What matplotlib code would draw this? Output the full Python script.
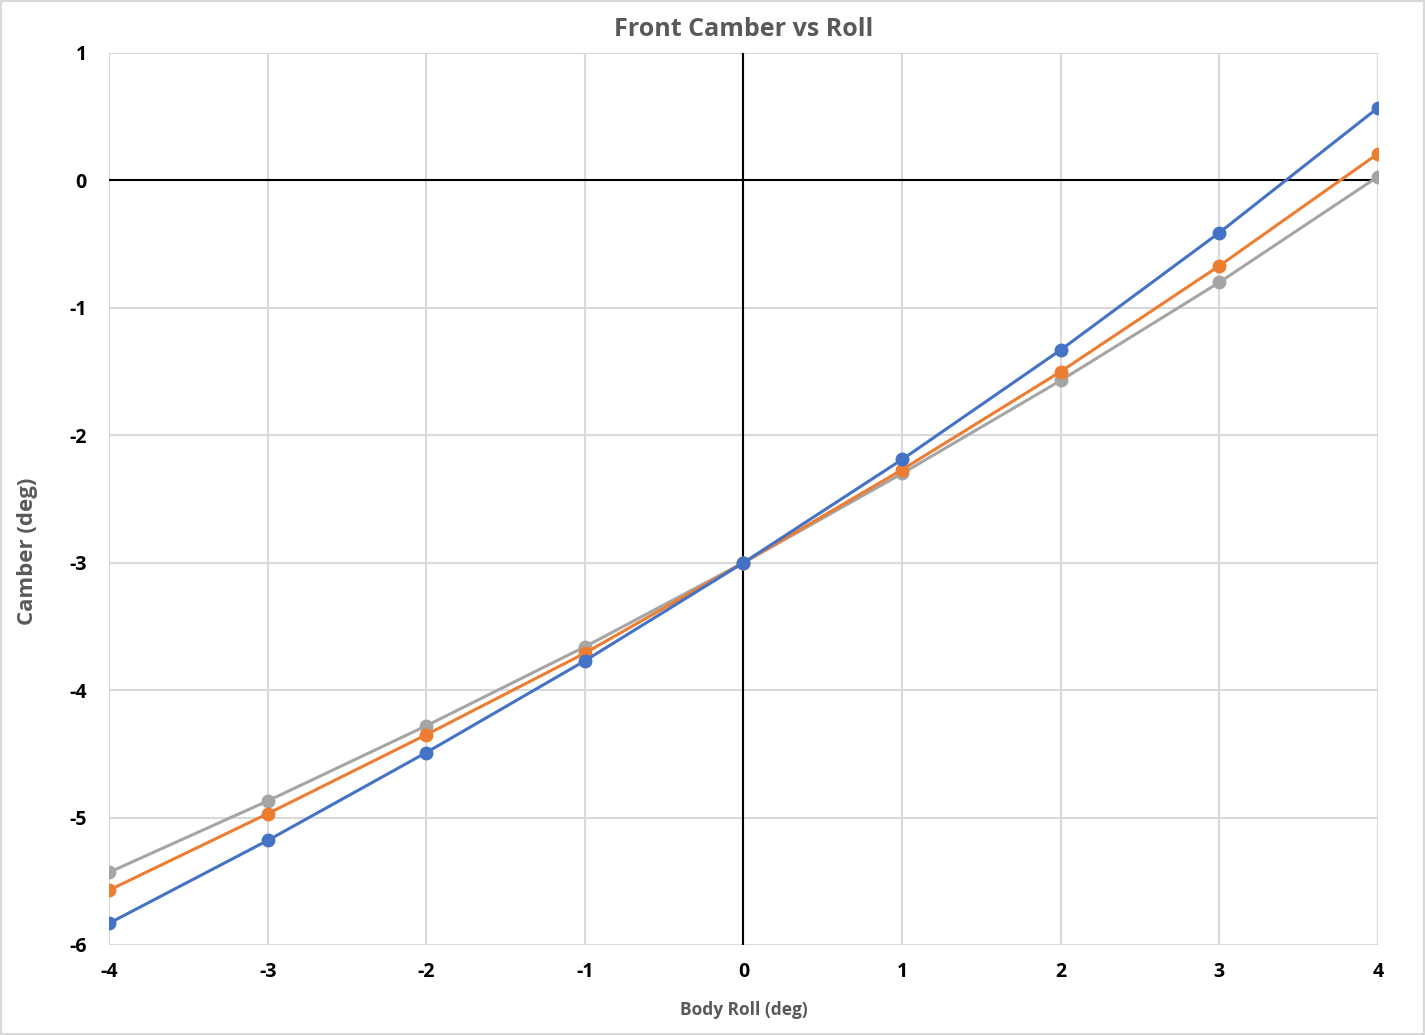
import matplotlib.pyplot as plt
from matplotlib.patches import Rectangle

roll = [-4, -3, -2, -1, 0, 1, 2, 3, 4]
camber_blue = [-5.83, -5.18, -4.49, -3.77, -3.00, -2.19, -1.33, -0.41, 0.57]
camber_orange = [-5.57, -4.97, -4.35, -3.71, -3.00, -2.27, -1.50, -0.67, 0.21]
camber_gray = [-5.43, -4.87, -4.28, -3.66, -3.00, -2.30, -1.57, -0.80, 0.03]

x_ticks = [-4, -3, -2, -1, 0, 1, 2, 3, 4]
y_ticks = [1, 0, -1, -2, -3, -4, -5, -6]

plt.rcParams['font.family'] = ['Open Sans', 'DejaVu Sans']
plt.rcParams['axes.unicode_minus'] = False

fig = plt.figure(figsize=(14.25, 10.35), dpi=100)
fig.patches.append(Rectangle((0.001, 0.001), 0.998, 0.998, transform=fig.transFigure,
                             fill=False, edgecolor='#d9d9d9', linewidth=1.5))
ax = fig.add_axes([0.0765, 0.087, 0.8905, 0.8618])

ax.set_xlim(-4, 4)
ax.set_ylim(-6, 1)
ax.set_xticks(x_ticks)
ax.set_yticks(y_ticks)
ax.grid(True, color='#d9d9d9', linewidth=1.5)
ax.set_axisbelow(True)
for s in ax.spines.values():
    s.set_visible(False)
ax.tick_params(length=0, labelsize=14)
ax.tick_params(axis='x', pad=12)
ax.tick_params(axis='y', pad=16)
for lbl in ax.get_xticklabels() + ax.get_yticklabels():
    lbl.set_fontweight('bold')

ax.axhline(0, color='black', linewidth=1.5, zorder=1)
ax.axvline(0, color='black', linewidth=1.5, zorder=1)

for vals, col in [(camber_gray, '#a5a5a5'), (camber_orange, '#ed7d31'), (camber_blue, '#4472c4')]:
    ax.plot(roll, vals, color=col, marker='o', markersize=9, linewidth=2.2, zorder=3)

ax.set_title("Front Camber vs Roll", fontsize=18, fontweight='bold', color='#595959', pad=12)
ax.set_xlabel("Body Roll (deg)", fontsize=12.5, fontweight='bold', color='#595959', labelpad=14)
fig.text(28 / 1425, 1 - 551 / 1035, "Camber (deg)", rotation=90, ha='center', va='center',
         fontsize=16, fontweight='bold', color='#595959')

plt.savefig("out.png", dpi=100)
plt.close()
